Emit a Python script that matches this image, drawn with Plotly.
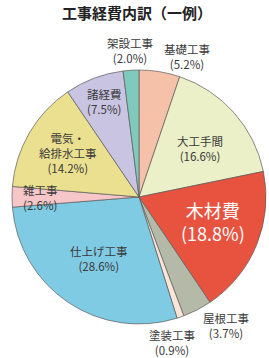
import plotly.graph_objects as go

title = "工事経費内訳（一例）"
labels = ["基礎工事", "大工手間", "木材費", "屋根工事", "塗装工事",
          "仕上げ工事", "雑工事", "電気・<br>給排水工事", "諸経費", "架設工事"]
values = [5.2, 16.6, 18.8, 3.7, 0.9, 28.6, 2.6, 14.2, 7.5, 2.0]
colors = ["#f5c1a9", "#ebf0c8", "#e8533f", "#b4baa7", "#fbe4d8",
          "#7fcbe3", "#f6c6c9", "#ebe090", "#c8c4e1", "#80c9bd"]

# label centre positions in pixels (x, y of block centre)
label_pos = [(187, 56), (200, 148), (213, 222), (226, 325), (172, 342),
             (99, 258), (40, 197), (68, 153), (104, 101), (130, 50)]

W, H = 269, 358

fig = go.Figure(go.Pie(
    labels=labels, values=values, sort=False, direction="clockwise", rotation=0,
    marker=dict(colors=colors, line=dict(color="#5a5a5a", width=0.7)),
    textinfo="none", hoverinfo="label+percent", showlegend=False,
    domain=dict(x=[12 / W, 266 / W], y=[1 - 324 / H, 1 - 70 / H]),
))

ann = []
for lab, v, (px, py) in zip(labels, values, label_pos):
    big = lab == "木材費"
    ann.append(dict(
        text=f"{lab}<br>({v:.1f}%)", x=px / W, y=1 - py / H,
        xref="paper", yref="paper", xanchor="center", yanchor="middle",
        showarrow=False, align="center",
        font=dict(size=18 if big else 11.5, color="white" if big else "#3a3a3a",
                  family="Noto Sans CJK JP"),
    ))
ann.append(dict(text=f"<b>{title}</b>", x=137 / W, y=1 - 13 / H, xref="paper", yref="paper",
                xanchor="center", yanchor="middle", showarrow=False,
                font=dict(size=15, color="#222", family="Noto Sans CJK JP")))

fig.update_layout(width=W, height=H, margin=dict(l=0, r=0, t=0, b=0),
                  paper_bgcolor="white", plot_bgcolor="white", annotations=ann)
fig.write_html("out.html")
